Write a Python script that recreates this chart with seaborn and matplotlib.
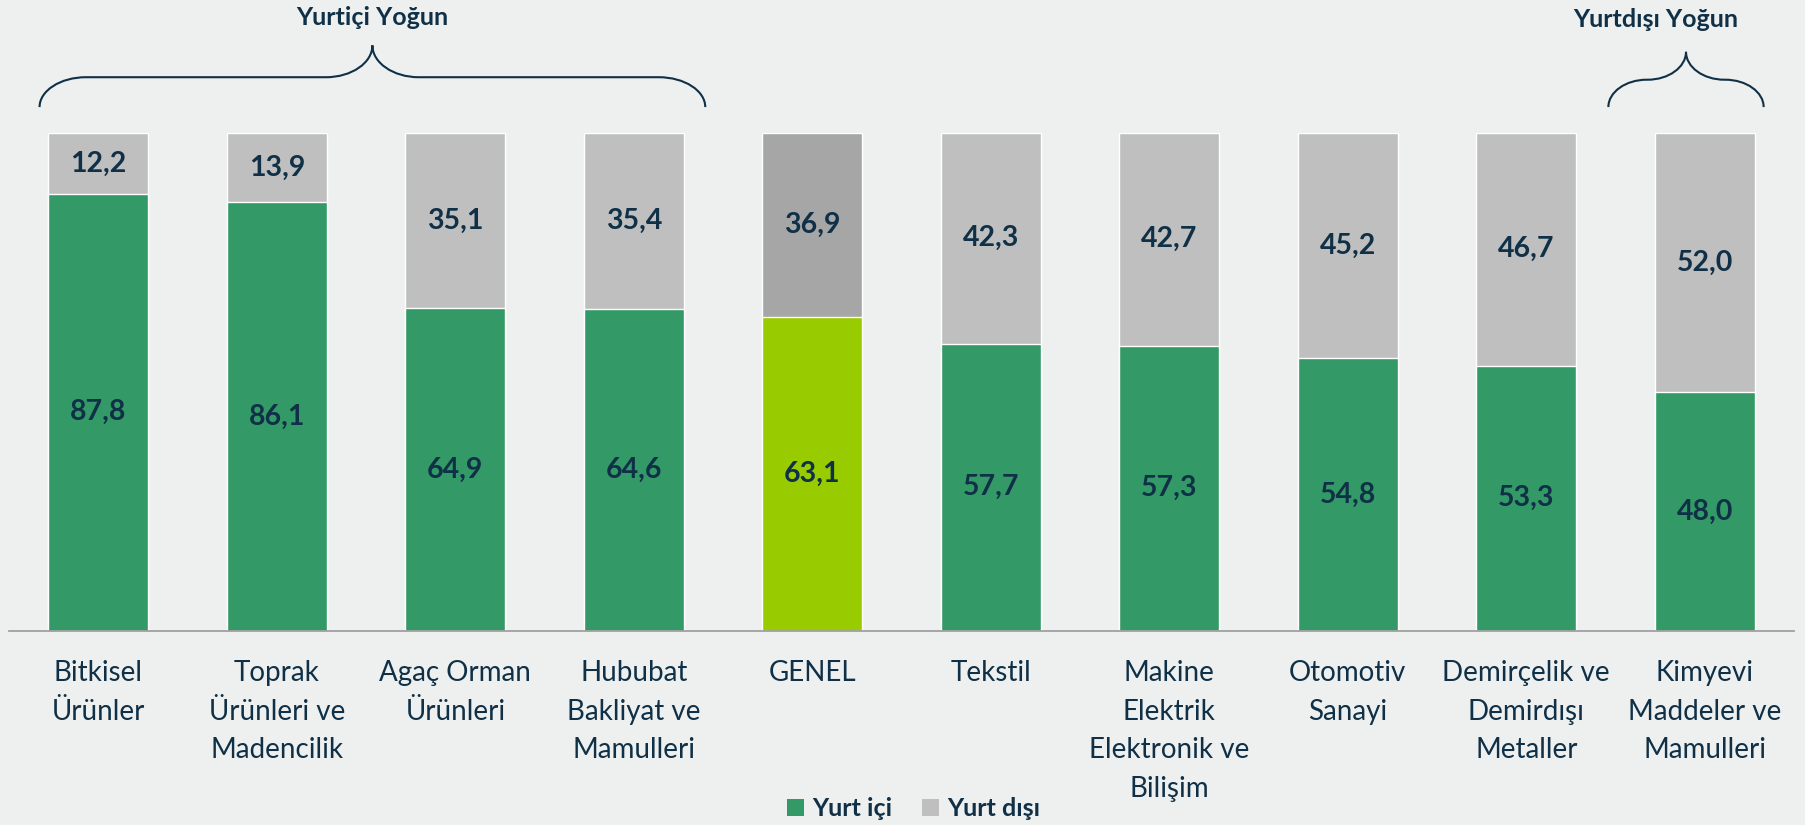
import numpy as np
import pandas as pd
import seaborn as sns
import matplotlib.pyplot as plt
from matplotlib.path import Path
from matplotlib.patches import PathPatch, Patch

# veriler
kategoriler = ['Bitkisel\nÜrünler', 'Toprak\nÜrünleri ve\nMadencilik', 'Agaç Orman\nÜrünleri',
               'Hububat\nBakliyat ve\nMamulleri', 'GENEL', 'Tekstil',
               'Makine\nElektrik\nElektronik ve\nBilişim', 'Otomotiv\nSanayi',
               'Demirçelik ve\nDemirdışı\nMetaller', 'Kimyevi\nMaddeler ve\nMamulleri']
yurt_ici = [87.8, 86.1, 64.9, 64.6, 63.1, 57.7, 57.3, 54.8, 53.3, 48.0]
yurt_disi = [12.2, 13.9, 35.1, 35.4, 36.9, 42.3, 42.7, 45.2, 46.7, 52.0]
genel_idx = 4

df = pd.DataFrame({'kategori': kategoriler, 'yurt_ici': yurt_ici, 'yurt_disi': yurt_disi})
df['toplam'] = df['yurt_ici'] + df['yurt_disi']

yesil = '#339966'
gri = '#BFBFBF'
genel_yesil = '#99CC00'
genel_gri = '#A6A6A6'
yazi = '#0F3046'
arka = '#EEF0EF'

sns.set_style('white')
plt.rcParams['font.family'] = ['Lato', 'DejaVu Sans']

fig = plt.figure(figsize=(18.05, 8.25), dpi=100, facecolor=arka)
ax = fig.add_axes([0.0051, 0.2352, 0.9888, 0.6036])
ax.set_facecolor(arka)

gri_renk = [genel_gri if i == genel_idx else gri for i in range(len(df))]
yesil_renk = [genel_yesil if i == genel_idx else yesil for i in range(len(df))]

sns.barplot(data=df, x='kategori', y='toplam', hue='kategori', palette=gri_renk,
            width=0.56, saturation=1, legend=False, ax=ax)
sns.barplot(data=df, x='kategori', y='yurt_ici', hue='kategori', palette=yesil_renk,
            width=0.56, saturation=1, legend=False, ax=ax)

# değer etiketleri
for i, (a, b) in enumerate(zip(yurt_ici, yurt_disi)):
    ax.text(i, a / 2, f'{a:.1f}'.replace('.', ','), ha='center', va='center',
            fontsize=20.5, fontweight='bold', color=yazi)
    ax.text(i, a + b / 2, f'{b:.1f}'.replace('.', ','), ha='center', va='center',
            fontsize=20.5, fontweight='bold', color=yazi)

ax.set_xlim(-0.5, len(df) - 0.5)
ax.set_ylim(0, 100)
ax.set_xlabel('')
ax.set_ylabel('')
ax.set_yticks([])
for s in ['top', 'right', 'left']:
    ax.spines[s].set_visible(False)
ax.spines['bottom'].set_color('#A0A0A0')
ax.spines['bottom'].set_linewidth(1.3)

ax.set_xticks(range(len(df)))
ax.set_xticklabels(kategoriler, fontsize=20, color=yazi, linespacing=1.6, va='top')
ax.set_xticks(np.arange(-0.5, len(df), 1), minor=True)
ax.tick_params(axis='x', which='major', length=0, pad=21)
ax.tick_params(axis='x', which='minor', length=7, width=1.3, color='#A0A0A0', direction='out')


# süslü parantez
def parantez(x0, x1, y_alt, y_orta, y_tepe, dx):
    xp = (x0 + x1) / 2
    k = 0.55
    verts = [
        (x0, y_alt), (x0, y_alt + k * (y_orta - y_alt)), (x0 + dx - k * dx, y_orta), (x0 + dx, y_orta),
        (xp - dx, y_orta),
        (xp - dx + k * dx, y_orta), (xp, y_tepe - k * (y_tepe - y_orta)), (xp, y_tepe),
        (xp, y_tepe - k * (y_tepe - y_orta)), (xp + dx - k * dx, y_orta), (xp + dx, y_orta),
        (x1 - dx, y_orta),
        (x1 - dx + k * dx, y_orta), (x1, y_alt + k * (y_orta - y_alt)), (x1, y_alt),
    ]
    codes = [Path.MOVETO, Path.CURVE4, Path.CURVE4, Path.CURVE4, Path.LINETO,
             Path.CURVE4, Path.CURVE4, Path.CURVE4, Path.CURVE4, Path.CURVE4, Path.CURVE4,
             Path.LINETO, Path.CURVE4, Path.CURVE4, Path.CURVE4]
    p = PathPatch(Path(verts, codes), fill=False, edgecolor=yazi, lw=1.5, clip_on=False)
    ax.add_patch(p)
    return xp


xp1 = parantez(-0.33, 3.40, 105.2, 111.2, 117.6, 0.26)
xp2 = parantez(8.46, 9.33, 105.2, 110.7, 116.3, 0.215)
ax.text(xp1, 121.7, 'Yurtiçi Yoğun', ha='center', va='baseline', fontsize=18,
        fontweight='bold', color=yazi, clip_on=False)
ax.text(xp2 - 0.17, 121.3, 'Yurtdışı Yoğun', ha='center', va='baseline', fontsize=18,
        fontweight='bold', color=yazi, clip_on=False)

# lejant
handles = [Patch(facecolor=yesil, edgecolor='none'), Patch(facecolor=gri, edgecolor='none')]
leg = fig.legend(handles, ['Yurt içi', 'Yurt dışı'], loc='center', bbox_to_anchor=(0.506, 0.0194),
                 ncol=2, frameon=False, handlelength=0.7, handleheight=0.7, handletextpad=0.3,
                 columnspacing=1.2, prop={'size': 18, 'weight': 'bold'})
for t in leg.get_texts():
    t.set_color(yazi)

fig.savefig('out.png', dpi=100, facecolor=arka)
